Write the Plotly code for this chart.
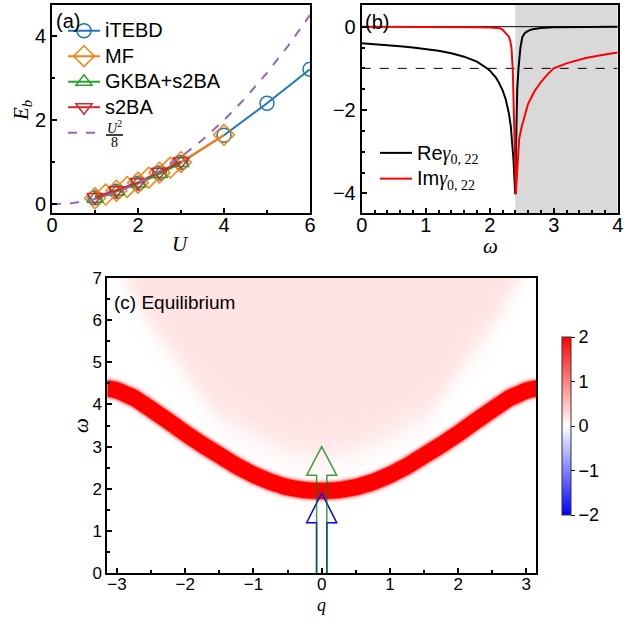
import numpy as np
import plotly.graph_objects as go

W_FIG, H_FIG = 642, 618
SANS = "Liberation Sans, Arial, sans-serif"
SERIF = "Liberation Serif, Times New Roman, serif"

# ---------------- Panel (a) data ----------------
U_itebd = [1, 1.5, 2, 2.5, 3, 4, 5, 6]
E_itebd = [0.15, 0.31, 0.50, 0.74, 0.99, 1.64, 2.40, 3.21]
U_mf = [1, 1.25, 1.5, 1.75, 2, 2.25, 2.5, 2.75, 3, 4]
E_mf = [0.14, 0.23, 0.32, 0.41, 0.51, 0.63, 0.75, 0.87, 1.00, 1.65]
U_gkba = [1, 1.5, 2, 2.5, 3]
E_gkba = [0.13, 0.30, 0.49, 0.72, 0.98]
U_s2ba = [1, 1.5, 2, 2.5, 3]
E_s2ba = [0.17, 0.33, 0.52, 0.77, 1.02]
U_quad = [0, 0.5, 1, 1.5, 2, 2.5, 3, 3.5, 4, 4.5, 5, 5.5, 6]
E_quad = [0.0, 0.03, 0.125, 0.28, 0.5, 0.78, 1.125, 1.53, 2.0, 2.53, 3.125, 3.78, 4.5]

# ---------------- Panel (b) data ----------------
w_re = [0, 0.2, 0.4, 0.6, 0.8, 1.0, 1.2, 1.4, 1.6, 1.8, 1.9, 1.95, 2.0, 2.05, 2.1, 2.15, 2.2,
        2.25, 2.3, 2.33, 2.35, 2.37, 2.39, 2.40, 2.41, 2.42, 2.43, 2.45, 2.48, 2.51, 2.55,
        2.6, 2.67, 2.8, 3.0, 3.5, 4.0]
g_re = [-0.40, -0.42, -0.44, -0.47, -0.50, -0.54, -0.58, -0.64, -0.72, -0.84, -0.93, -0.99,
        -1.05, -1.13, -1.23, -1.36, -1.52, -1.74, -2.08, -2.40, -2.72, -3.15, -3.75, -4.02,
        -3.0, -2.2, -1.5, -1.0, -0.5, -0.25, -0.15, -0.10, -0.06, -0.03, -0.015, -0.005, 0.0]
w_im = [0, 0.5, 1.0, 1.5, 1.8, 2.0, 2.1, 2.16, 2.2, 2.24, 2.28, 2.3, 2.32, 2.34, 2.36, 2.38,
        2.40, 2.41, 2.42, 2.44, 2.46, 2.5, 2.55, 2.6, 2.7, 2.8, 2.9, 3.0, 3.2, 3.5, 3.8, 4.0]
g_im = [0.0, 0.0, -0.003, -0.006, -0.012, -0.02, -0.03, -0.04, -0.07, -0.13, -0.19, -0.24,
        -0.33, -0.5, -1.0, -2.0, -3.2, -4.02, -3.7, -3.1, -2.7, -2.4, -2.1, -1.85, -1.55,
        -1.33, -1.15, -1.0, -0.88, -0.75, -0.67, -0.62]
gap_start = 2.4
ref_level = -1.0

# ---------------- Panel (c) data ----------------
band_q = [0, 0.25, 0.5, 0.75, 1.0, 1.25, 1.5, 1.75, 2.0, 2.25, 2.5, 2.75, 3.0, np.pi]
band_center = [1.95, 1.97, 2.04, 2.16, 2.33, 2.54, 2.79, 3.04, 3.31, 3.60, 3.88, 4.15, 4.33, 4.38]
band_halfwidth = 0.18
band_peak = 20.0
cont_q = [0, 0.5, 1.0, 1.5, 1.75, 2.0, 2.5, 2.9, np.pi]
cont_edge = [2.75, 2.9, 3.25, 3.7, 4.15, 4.75, 5.85, 7.0, 7.7]
cont_level = 0.22
cont_soft = 0.2
arrow_q = 0.0
arrow_tip = [1.9, 3.0]
arrow_base = [1.2, 2.32]
arrow_colors = ["rgba(0,0,255,1)", "rgba(0,128,0,0.75)"]
cbar_ticks = [-2, -1, 0, 1, 2]


def px_x(p):
    return p / W_FIG


def px_y(p):
    return 1 - p / H_FIG


def big(s, size=20):
    return f"<span style=\"font-size:{size}px\">{s}</span>"


fig = go.Figure()

# ---- (a) traces
mk = dict(size=14, line=dict(width=1.5))
fig.add_trace(go.Scatter(x=U_itebd, y=E_itebd, mode="lines+markers", name=big("iTEBD"),
                         line=dict(color="#1f77b4", width=2),
                         marker=dict(symbol="circle-open", color="#1f77b4", **mk),
                         xaxis="x", yaxis="y", legend="legend"))
fig.add_trace(go.Scatter(x=U_mf, y=E_mf, mode="lines+markers", name=big("MF"),
                         line=dict(color="#ff7f0e", width=2),
                         marker=dict(symbol="diamond-open", color="#ff7f0e", size=16, line=dict(width=1.5)),
                         xaxis="x", yaxis="y", legend="legend"))
fig.add_trace(go.Scatter(x=U_gkba, y=E_gkba, mode="lines+markers", name=big("GKBA+s2BA"),
                         line=dict(color="#2ca02c", width=2),
                         marker=dict(symbol="triangle-up-open", color="#2ca02c", **mk),
                         xaxis="x", yaxis="y", legend="legend"))
fig.add_trace(go.Scatter(x=U_s2ba, y=E_s2ba, mode="lines+markers", name=big("s2BA"),
                         line=dict(color="#d62728", width=2),
                         marker=dict(symbol="triangle-down-open", color="#d62728", **mk),
                         xaxis="x", yaxis="y", legend="legend"))
fig.add_trace(go.Scatter(x=U_quad, y=E_quad, mode="lines", name="      ",
                         line=dict(color="#9467bd", width=2, dash="dash"),
                         xaxis="x", yaxis="y", legend="legend"))

# ---- (b) traces
gam = "<span style=\"font-family:Liberation Serif\"><i>γ</i><sub>0, 22</sub></span>"
fig.add_trace(go.Scatter(x=w_re, y=g_re, mode="lines", name=big("Re" + gam),
                         line=dict(color="black", width=2), xaxis="x2", yaxis="y2", legend="legend2"))
fig.add_trace(go.Scatter(x=w_im, y=g_im, mode="lines", name=big("Im" + gam),
                         line=dict(color="red", width=2), xaxis="x2", yaxis="y2", legend="legend2"))

# ---- (c) heatmap
q_grid = np.linspace(-np.pi, np.pi, 431)
w_grid = np.linspace(0, 7, 297)
qa = np.abs(q_grid)
center = np.interp(qa, band_q, band_center)
kern = np.ones(9) / 9
center_s = np.convolve(np.pad(center, 4, mode="edge"), kern, mode="valid")
slope = np.gradient(center_s, q_grid) * (42.0 / 68.2)
half = band_halfwidth * np.sqrt(1 + slope ** 2)
sigma = half / 2.146
edge = np.interp(qa, cont_q, cont_edge)
Wg = w_grid[:, None]
z = band_peak * np.exp(-0.5 * ((Wg - center_s[None, :]) / sigma[None, :]) ** 2)
z = z + cont_level / (1 + np.exp(-(Wg - edge[None, :]) / cont_soft))
z = np.round(np.minimum(z, 2.5), 3)

fig.add_trace(go.Heatmap(
    x=q_grid, y=w_grid, z=z, zmin=-2, zmax=2, xaxis="x3", yaxis="y3",
    colorscale=[[0, "rgb(0,0,255)"], [0.5, "rgb(255,255,255)"], [1, "rgb(255,0,0)"]],
    colorbar=dict(x=px_x(561.5), xanchor="left", xpad=0, ypad=0,
                  y=px_y(426), yanchor="middle", len=178, lenmode="pixels",
                  thickness=9, outlinewidth=1, outlinecolor="#333",
                  tickvals=cbar_ticks, ticks="outside", ticklen=4, tickcolor="black",
                  tickfont=dict(family=SANS, size=18, color="black")),
    showlegend=False))


def axis(dom, rng, dtick, mdt, anchor, tfont=20, standoff=0):
    return dict(domain=dom, range=rng, anchor=anchor, showline=True, linecolor="black",
                linewidth=2, mirror=True, ticks="inside", ticklen=5, tickwidth=1.5,
                tickcolor="black", showgrid=False, zeroline=False, dtick=dtick, tick0=0,
                automargin=False, ticklabelstandoff=standoff,
                tickfont=dict(family=SANS, size=tfont, color="black"),
                minor=dict(ticks="inside", ticklen=3, dtick=mdt, tick0=0, tickcolor="black",
                           showgrid=False))


xa = [px_x(52), px_x(310)]
ya = [px_y(213), px_y(5)]
xb = [px_x(361.7), px_x(617.7)]
xc = [px_x(107.4), px_x(536)]
yc = [px_y(573.3), px_y(277.7)]

shapes = []
shapes.append(dict(type="rect", xref="x2", yref="y2", x0=gap_start, x1=4, y0=-4.47, y1=0.52,
                   fillcolor="#d9d9d9", line=dict(width=0), layer="below"))
shapes.append(dict(type="line", xref="x2", yref="y2", x0=0, x1=4, y0=0, y1=0,
                   line=dict(color="black", width=1), layer="below"))
shapes.append(dict(type="line", xref="x2", yref="y2", x0=0, x1=4, y0=ref_level, y1=ref_level,
                   line=dict(color="black", width=1, dash="dash"), layer="below"))
wsh, whd = 0.075, 0.22
for tip, base, col in zip(arrow_tip, arrow_base, arrow_colors):
    path = (f"M{arrow_q - wsh},0 L{arrow_q - wsh},{base} L{arrow_q - whd},{base} "
            f"L{arrow_q},{tip} L{arrow_q + whd},{base} L{arrow_q + wsh},{base} L{arrow_q + wsh},0")
    shapes.append(dict(type="path", xref="x3", yref="y3", path=path,
                       fillcolor="rgba(0,0,0,0)", line=dict(color=col, width=1.5)))
shapes.append(dict(type="line", xref="paper", yref="paper", x0=px_x(106), x1=px_x(123),
                   y0=px_y(135), y1=px_y(135), line=dict(color="black", width=1.5)))


def ann(text, x, y, size, family=SANS, angle=0, xanchor="center"):
    return dict(text=text, x=px_x(x), y=px_y(y), xref="paper", yref="paper", xanchor=xanchor,
                yanchor="middle", showarrow=False, textangle=angle,
                font=dict(family=family, size=size, color="black"))


annotations = [
    ann("(a)", 54, 21, 20, xanchor="left"),
    ann("(b)", 363, 22, 20, xanchor="left"),
    ann("(c) Equilibrium", 112, 302, 19, xanchor="left"),
    ann("<i>U</i><sup>2</sup>", 114.5, 127, 14, SERIF),
    ann("8", 114.5, 143, 14, SERIF),
    ann("<i>U</i>", 181, 244, 21, SERIF),
    ann("<i>E</i><sub><i>b</i></sub>", 22, 110, 21, SERIF, angle=-90),
    ann("<i>ω</i>", 490, 246, 21, SERIF),
    ann("<i>ω</i>", 81, 425, 21, SERIF, angle=-90),
    ann("<i>q</i>", 321.7, 605, 18, SERIF),
]

fig.update_layout(
    template="none",
    width=W_FIG, height=H_FIG, margin=dict(l=0, r=0, t=0, b=0, autoexpand=False),
    paper_bgcolor="white", plot_bgcolor="white",
    xaxis=axis(xa, [0, 6], 2, 1, "y", standoff=-7),
    yaxis=axis(ya, [-0.21, 4.74], 2, 1, "x"),
    xaxis2=axis(xb, [0, 4], 1, 0.2, "y2", standoff=-7),
    yaxis2=axis(ya, [-4.47, 0.52], 2, 0.5, "x2"),
    xaxis3=axis(xc, [-np.pi, np.pi], 1, 0.5, "y3", tfont=17, standoff=-6),
    yaxis3=axis(yc, [0, 7], 1, 0.5, "x3", tfont=17),
    legend=dict(x=px_x(63), y=px_y(13), xanchor="left", yanchor="top",
                bgcolor="rgba(0,0,0,0)", font=dict(family=SANS, size=17.3, color="black"),
                tracegroupgap=0, itemwidth=32),
    legend2=dict(x=px_x(375), y=px_y(135), xanchor="left", yanchor="top",
                 bgcolor="rgba(0,0,0,0)", font=dict(family=SANS, size=17.5, color="black"),
                 tracegroupgap=0, itemwidth=32),
    shapes=shapes, annotations=annotations,
)

fig.write_html("out.html")
